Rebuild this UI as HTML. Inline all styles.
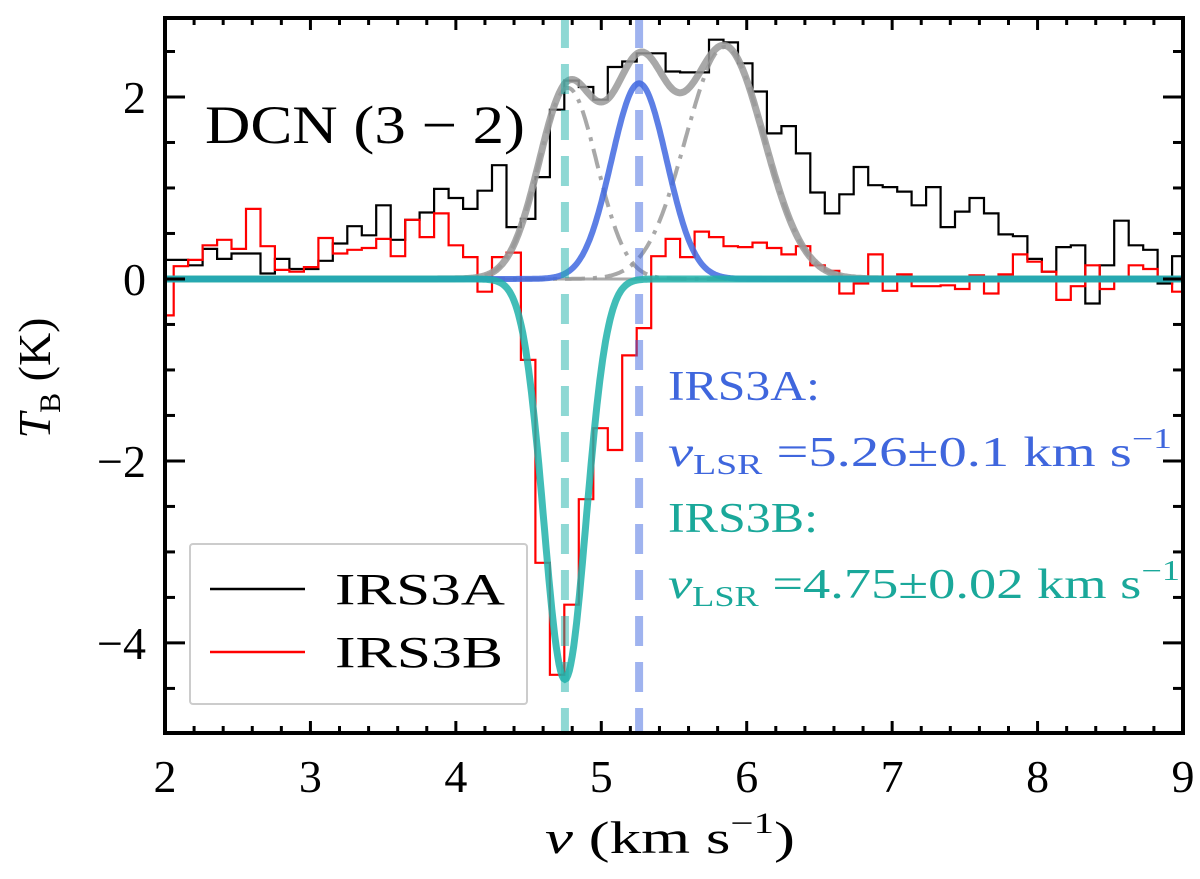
<!DOCTYPE html>
<html><head><meta charset="utf-8"><style>
html,body{margin:0;padding:0;background:#fff}
svg{display:block;font-family:"Liberation Serif","DejaVu Serif",serif}
</style></head><body>
<svg id="chart" width="1200" height="879" viewBox="0 0 1200 879" xmlns="http://www.w3.org/2000/svg"></svg>
<script>
// ---- data ----
const binStart = 1.96;
const binWidth = 0.0995;
const irs3aValues = [0.21,0.21,0.15,0.33,0.22,0.28,0.28,0.06,0.22,0.11,0.11,0.20,0.39,0.58,0.48,0.81,0.43,0.65,0.73,0.99,0.89,0.77,0.97,1.25,0.57,0.66,1.12,1.86,2.18,2.11,1.97,2.33,2.39,2.48,2.48,2.28,2.27,2.27,2.63,2.60,2.37,2.06,1.60,1.68,1.38,0.95,0.72,0.93,1.23,1.03,1.01,0.96,0.81,1.01,0.57,0.74,0.89,0.72,0.49,0.47,0.22,0.08,0.35,0.37,-0.27,0.15,0.64,0.37,0.32,-0.05,0.25];
const irs3bValues = [-0.40,0.14,0.21,0.37,0.43,0.33,0.77,0.36,0.10,0.08,0.13,0.45,0.28,0.32,0.34,0.44,0.25,0.65,0.46,0.72,0.37,0.24,-0.14,0.24,0.29,-0.89,-3.12,-4.35,-3.58,-2.42,-1.64,-1.88,-0.84,-0.54,0.25,0.44,0.24,0.52,0.46,0.36,0.35,0.40,0.34,0.27,0.36,0.15,0.09,-0.16,-0.05,0.27,-0.13,0.05,-0.08,-0.08,-0.07,-0.11,0.04,-0.16,0.05,0.27,0.19,0.08,-0.23,-0.08,0.15,-0.11,0.00,0.15,0.11,0.00,-0.14];
// gaussian components: [amplitude, center, sigma]
const fitIrs3bEmission = [2.1, 4.77, 0.2];
const fitIrs3a = [2.15, 5.26, 0.19];
const fitRedComponent = [2.55, 5.85, 0.27];
const fitIrs3bAbsorption = [-4.4, 4.75, 0.145];
const vlsrA = 5.26, vlsrB = 4.75;
const xTicks = [2,3,4,5,6,7,8,9];
const yTicks = [2,0,-2,-4];
const yTickLabels = ["2","0","\u22122","\u22124"];

// ---- axes ----
const L=165,R=1183,T=18,B=733;
const xMin=2,xMax=9,yMin=-4.99,yMax=2.868;
const X=v=>L+(v-xMin)/(xMax-xMin)*(R-L);
const Y=v=>B-(v-yMin)/(yMax-yMin)*(B-T);
const svg=document.getElementById('chart');
const NS='http://www.w3.org/2000/svg';
function mk(tag,attrs,parent){const e=document.createElementNS(NS,tag);for(const k in attrs)e.setAttribute(k,attrs[k]);(parent||svg).appendChild(e);return e;}

const defs=mk('defs',{});
const cp=mk('clipPath',{id:'clip'},defs);
mk('rect',{x:L,y:T,width:R-L,height:B-T},cp);
const plot=mk('g',{'clip-path':'url(#clip)'});



function stepPath(vals){let d='';vals.forEach((v,i)=>{const x0=X(binStart+i*binWidth),x1=X(binStart+(i+1)*binWidth),y=Y(v);d+=(i?'L':'M')+x0.toFixed(1)+','+y.toFixed(1)+'L'+x1.toFixed(1)+','+y.toFixed(1);});return d;}
function gauss(p,v){return p[0]*Math.exp(-Math.pow(v-p[1],2)/(2*p[2]*p[2]));}
function curve(fn){let d='';for(let i=0;i<=700;i++){const v=xMin+i*(xMax-xMin)/700;d+=(i?'L':'M')+X(v).toFixed(1)+','+Y(fn(v)).toFixed(1);}return d;}

let e=mk('line',{x1:L,x2:R,y1:Y(0),y2:Y(0),stroke:'#aaa','stroke-width':3},plot);



e=mk('path',{d:stepPath(irs3aValues),fill:'none',stroke:'#000','stroke-width':2.2},plot);


e=mk('path',{d:stepPath(irs3bValues),fill:'none',stroke:'#ff0000','stroke-width':2.2},plot);



e=mk('path',{d:curve(v=>gauss(fitIrs3bEmission,v)),fill:'none',stroke:'#999','stroke-width':4,'stroke-dasharray':'20,8,4,8',opacity:0.85},plot);


e=mk('path',{d:curve(v=>gauss(fitRedComponent,v)),fill:'none',stroke:'#999','stroke-width':4,'stroke-dasharray':'20,8,4,8',opacity:0.85},plot);


e=mk('path',{d:curve(v=>gauss(fitIrs3bEmission,v)+gauss(fitIrs3a,v)+gauss(fitRedComponent,v)),fill:'none',stroke:'#999','stroke-width':7,opacity:0.85},plot);


e=mk('path',{d:curve(v=>gauss(fitIrs3a,v)),fill:'none',stroke:'#4169e1','stroke-width':6,opacity:0.85},plot);


e=mk('line',{x1:X(vlsrB),x2:X(vlsrB),y1:T,y2:B,stroke:'#20b2aa','stroke-width':8,'stroke-dasharray':'30,16',opacity:0.5},plot);


e=mk('line',{x1:X(vlsrA),x2:X(vlsrA),y1:T,y2:B,stroke:'#4169e1','stroke-width':8,'stroke-dasharray':'30,16',opacity:0.5},plot);


e=mk('path',{d:curve(v=>gauss(fitIrs3bAbsorption,v)),fill:'none',stroke:'#20b2aa','stroke-width':7,opacity:0.85},plot);



// ---- frame & ticks ----
const axg=mk('g',{stroke:'#000'});


for(let v=2;v<=9.001;v+=0.2){const x=X(v);const major=Math.abs(v-Math.round(v))<1e-6;const len=major?12:7;
 mk('line',{x1:x,x2:x,y1:B,y2:B-len,'stroke-width':3},axg);mk('line',{x1:x,x2:x,y1:T,y2:T+len,'stroke-width':3},axg);}
for(let v=-4.5;v<=2.51;v+=0.5){const y=Y(v);const major=Math.abs(v/2-Math.round(v/2))<1e-6;const len=major?20:10;
 mk('line',{x1:L,x2:L+len,y1:y,y2:y,'stroke-width':3},axg);mk('line',{x1:R,x2:R-len,y1:y,y2:y,'stroke-width':3},axg);}
mk('rect',{x:L,y:T,width:R-L,height:B-T,fill:'none','stroke-width':4},axg);

xTicks.forEach(v=>{const t=mk('text',{x:X(v),y:792,'font-size':46,'text-anchor':'middle'});t.textContent=String(v);
 
 });
yTicks.forEach((v,i)=>{const t=mk('text',{x:146,y:Y(v)+16,'font-size':46,'text-anchor':'end'});t.textContent=yTickLabels[i];
 
 });
</script>
<svg style="position:absolute;left:0;top:0" width="1200" height="879" xmlns="http://www.w3.org/2000/svg" font-family="Liberation Serif, DejaVu Serif, serif">
<text x="545" y="853" font-size="46" textLength="250" lengthAdjust="spacingAndGlyphs"><tspan font-style="italic">v</tspan> (km s<tspan font-size="30" dy="-20">−1</tspan><tspan dy="20">)</tspan></text>
<text transform="translate(50,378) rotate(-90)" font-size="46" text-anchor="middle"><tspan font-style="italic">T</tspan><tspan font-size="30" dy="10">B</tspan><tspan dy="-10"> (K)</tspan></text>
<text x="205" y="143" font-size="54" textLength="320" lengthAdjust="spacingAndGlyphs">DCN (3 − 2)</text>
<g fill="#3f66dd" font-size="42">
<text x="668" y="400" textLength="152" lengthAdjust="spacingAndGlyphs">IRS3A:</text>
<text x="668" y="466" textLength="504" lengthAdjust="spacingAndGlyphs"><tspan font-style="italic">v</tspan><tspan font-size="28" dy="8">LSR</tspan><tspan dy="-8"> =5.26±0.1 km s</tspan><tspan font-size="28" dy="-18">−1</tspan></text>
</g>
<g fill="#1aa89a" font-size="42">
<text x="668" y="532" textLength="150" lengthAdjust="spacingAndGlyphs">IRS3B:</text>
<text x="668" y="598" textLength="512" lengthAdjust="spacingAndGlyphs"><tspan font-style="italic">v</tspan><tspan font-size="28" dy="8">LSR</tspan><tspan dy="-8"> =4.75±0.02 km s</tspan><tspan font-size="28" dy="-18">−1</tspan></text>
</g>
<g>
<rect x="190" y="544" width="337" height="160" fill="#fff" fill-opacity="0.85" stroke="#ccc" stroke-width="2" rx="3"/>
<g><line x1="210" x2="305" y1="589" y2="589" stroke="#000" stroke-width="2.5"/><text x="335" y="604" font-size="44" textLength="170" lengthAdjust="spacingAndGlyphs">IRS3A</text></g>
<g><line x1="210" x2="305" y1="652" y2="652" stroke="#f00" stroke-width="2.5"/><text x="335" y="667" font-size="44" textLength="168" lengthAdjust="spacingAndGlyphs">IRS3B</text></g>
</g>
</svg>
</body></html>
